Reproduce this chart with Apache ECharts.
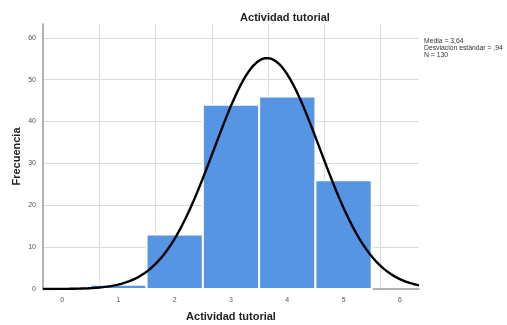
<!DOCTYPE html>
<html>
<head>
<meta charset="utf-8">
<script src="https://cdn.jsdelivr.net/npm/echarts@6/dist/echarts.min.js"></script>
<style>
html,body{margin:0;padding:0;background:#fff;}
#chart{width:507px;height:325px;}
</style>
</head>
<body>
<div id="chart"></div>
<script>
// Histogram of "Actividad tutorial" with fitted normal curve
const categories = [1, 2, 3, 4, 5];
const frequencies = [1, 13, 44, 46, 26];
const xTicks = [0, 1, 2, 3, 4, 5, 6];
const yTicks = [0, 10, 20, 30, 40, 50, 60];
const stats = { mean: 3.64, sd: 0.94, n: 130 };

// Normal density scaled to counts (bin width 1)
const curve = [];
for (let i = 0; i <= 200; i++) {
  const x = -0.34 + i * (6.68 / 200);
  const z = (x - stats.mean) / stats.sd;
  curve.push([x, stats.n / (stats.sd * Math.sqrt(2 * Math.PI)) * Math.exp(-0.5 * z * z)]);
}

const barData = categories.map((c, i) => [c, frequencies[i]]);

const chart = echarts.init(document.getElementById('chart'));
chart.setOption({
  animation: false,
  grid: { left: 43, right: 88, top: 24, bottom: 36, outerBoundsMode: 'none', containLabel: false },
  title: {
    text: 'Actividad tutorial',
    left: 280, textAlign: 'center', top: 7,
    textStyle: { fontFamily: 'Arial, Liberation Sans', fontSize: 11, fontWeight: 'bold', color: '#222' }
  },
  graphic: [{
    type: 'text', left: 424, top: 38,
    style: {
      text: 'Media = 3,64\nDesviación estándar = ,94\nN = 130',
      font: '6.8px Arial, "Liberation Sans"', fill: '#333', lineHeight: 6.6
    }
  }],
  xAxis: {
    type: 'value', min: -0.34, max: 6.34, interval: 1,
    name: 'Actividad tutorial', nameLocation: 'middle', nameGap: 22, nameMoveOverlap: false,
    nameTextStyle: { fontFamily: 'Arial, Liberation Sans', fontSize: 11, fontWeight: 'bold', color: '#222' },
    axisLine: { show: true, onZero: false, lineStyle: { color: '#999', width: 1.5 } },
    axisTick: { show: false },
    axisLabel: {
      fontSize: 7, color: '#555', fontFamily: 'Arial, Liberation Sans', margin: 8,
      customValues: xTicks,
      formatter: v => String(v)
    },
    splitLine: { show: true, showMinLine: false, showMaxLine: false, lineStyle: { color: '#dcdcdc', width: 1 } }
  },
  yAxis: {
    type: 'value', min: 0, max: 63.3, interval: 10,
    name: 'Frecuencia', nameLocation: 'middle', nameGap: 21, nameMoveOverlap: false,
    nameTextStyle: { fontFamily: 'Arial, Liberation Sans', fontSize: 11, fontWeight: 'bold', color: '#222' },
    axisLine: { show: true, onZero: false, lineStyle: { color: '#999', width: 1.5 } },
    axisTick: { show: false },
    axisLabel: {
      fontSize: 7, color: '#555', fontFamily: 'Arial, Liberation Sans', margin: 7,
      customValues: yTicks
    },
    splitLine: { show: true, showMinLine: false, showMaxLine: false, lineStyle: { color: '#dcdcdc', width: 1 } }
  },
  series: [
    {
      type: 'custom',
      data: barData,
      renderItem: function (params, api) {
        const x = api.value(0), y = api.value(1);
        const p0 = api.coord([x - 0.5, 0]);
        const p1 = api.coord([x + 0.5, y]);
        return {
          type: 'rect',
          shape: { x: p0[0], y: p1[1], width: p1[0] - p0[0], height: p0[1] - p1[1] },
          style: { fill: '#5595e3', stroke: '#fff', lineWidth: 2 }
        };
      },
      z: 2
    },
    {
      type: 'line', data: curve, showSymbol: false, smooth: false,
      lineStyle: { color: '#000', width: 2.4 }, z: 3
    }
  ]
});
</script>
</body>
</html>
